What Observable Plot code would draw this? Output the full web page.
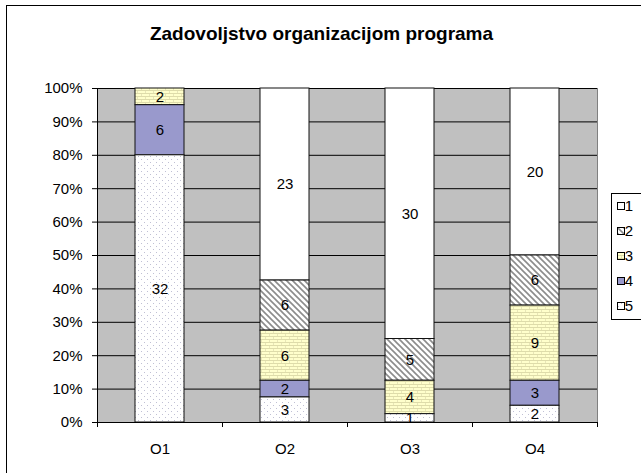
<!DOCTYPE html>
<html><head><meta charset="utf-8">
<script src="https://cdn.jsdelivr.net/npm/d3@7"></script>
<script src="https://cdn.jsdelivr.net/npm/@observablehq/plot@0.6"></script>
<style>
body{margin:0;background:#fff;}
#chart{position:relative;width:641px;height:473px;overflow:hidden;}
</style></head><body>
<svg width="0" height="0" style="position:absolute">
<defs>
<pattern id="p5" width="6" height="6" patternUnits="userSpaceOnUse">
 <rect width="6" height="6" fill="#fff"/>
 <rect x="0" y="0" width="1" height="1" fill="#c0c0d4"/>
 <rect x="3" y="3" width="1" height="1" fill="#c0c0d4"/>
</pattern>
<pattern id="p3" width="8" height="6" patternUnits="userSpaceOnUse">
 <rect width="8" height="6" fill="#ffffcc"/>
 <rect x="0" y="0" width="8" height="1" fill="#dedcaa"/>
 <rect x="0" y="3" width="8" height="1" fill="#dedcaa"/>
 <rect x="1" y="1" width="1" height="2" fill="#e8e6b8"/>
 <rect x="5" y="4" width="1" height="2" fill="#e8e6b8"/>
</pattern>
<pattern id="p2" width="6" height="6" patternUnits="userSpaceOnUse">
 <rect width="6" height="6" fill="#fff"/>
 <path d="M-1,-1 L7,7 M-1,5 L1,7 M5,-1 L7,1" stroke="#8c8c8c" stroke-width="1.6"/>
</pattern>
</defs></svg>
<div id="chart"></div>
<script>
const categories = ["O1", "O2", "O3", "O4"];
const seriesNames = ["1", "2", "3", "4", "5"];
const s1 = [0, 23, 30, 20];
const s2 = [0, 6, 5, 6];
const s3 = [2, 6, 4, 9];
const s4 = [6, 2, 0, 3];
const s5 = [32, 3, 1, 2];
const stackOrder = ["5", "4", "3", "2", "1"];
const yTicks = [0, 0.1, 0.2, 0.3, 0.4, 0.5, 0.6, 0.7, 0.8, 0.9, 1];
const title = "Zadovoljstvo organizacijom programa";
const seriesFills = ["#ffffff", "url(#p2)", "url(#p3)", "#9999cc", "url(#p5)"];

const seriesValues = [s1, s2, s3, s4, s5];
const rows = [];
seriesNames.forEach((s, si) => {
  categories.forEach((c, ci) => {
    const v = seriesValues[si][ci];
    if (v > 0) rows.push({cat: c, series: s, value: v});
  });
});

const font = "'Liberation Sans', Arial, sans-serif";
const chart = Plot.plot({
  width: 641, height: 473,
  marginLeft: 97, marginRight: 44, marginTop: 88, marginBottom: 51,
  style: {fontFamily: font, fontSize: "15px", background: "transparent", color: "#000"},
  x: {domain: categories, paddingInner: 0.608, paddingOuter: 0.304, label: null},
  y: {domain: [0, 1], label: null},
  color: {domain: seriesNames, range: seriesFills},
  marks: [
    Plot.frame({fill: "#c0c0c0", stroke: "#808080"}),
    Plot.ruleY(yTicks, {stroke: "#000", strokeWidth: 1}),
    Plot.barY(rows, Plot.stackY({x: "cat", y: "value", fill: "series", order: stackOrder, offset: "normalize", stroke: "#111", strokeWidth: 1})),
    Plot.text(rows, Plot.stackY({x: "cat", y: "value", z: "series", text: "value", order: stackOrder, offset: "normalize", fill: "#000", fontSize: 15})),
    Plot.frame({anchor: "left", stroke: "#000"}),
    Plot.frame({anchor: "bottom", stroke: "#000"}),
    Plot.axisY({ticks: yTicks, tickFormat: d3.format(".0%"), tickSize: 5, tickPadding: 10, label: null, fontSize: 15}),
    Plot.axisX({tickSize: 0, tickPadding: 21, label: null, fontSize: 15}),
    Plot.text([title], {frameAnchor: "top", lineAnchor: "bottom", dy: -49, dx: -26, fontWeight: "bold", fontSize: 19, fill: "#000"})
  ]
});
document.getElementById("chart").appendChild(chart);

const svg = d3.select(chart);
// x-axis boundary ticks
const xs = chart.scale("x");
const step = xs.step, bw = xs.bandwidth;
const start = xs.apply(categories[0]) - (step - bw) / 2;
for (let i = 0; i <= categories.length; i++) {
  const x = Math.round(start + i * step) + 0.5;
  svg.append("line").attr("x1", x).attr("x2", x).attr("y1", 422).attr("y2", 427).attr("stroke", "#000");
}
// legend
const lg = svg.append("g");
lg.append("rect").attr("x", 611.5).attr("y", 193.5).attr("width", 60).attr("height", 126)
  .attr("fill", "#fff").attr("stroke", "#000");
seriesNames.forEach((s, i) => {
  const cy = 206 + i * 25;
  lg.append("rect").attr("x", 617.5).attr("y", cy - 3.5).attr("width", 7).attr("height", 7)
    .attr("fill", seriesFills[i]).attr("stroke", "#000");
  lg.append("text").attr("x", 629).attr("y", cy).attr("dy", "0.35em")
    .attr("font-family", font).attr("font-size", 15).attr("fill", "#000").text(s);
});
// chart border
svg.append("rect").attr("x", 6.5).attr("y", 5.5).attr("width", 700).attr("height", 480)
  .attr("fill", "none").attr("stroke", "#000");
</script>
</body></html>
